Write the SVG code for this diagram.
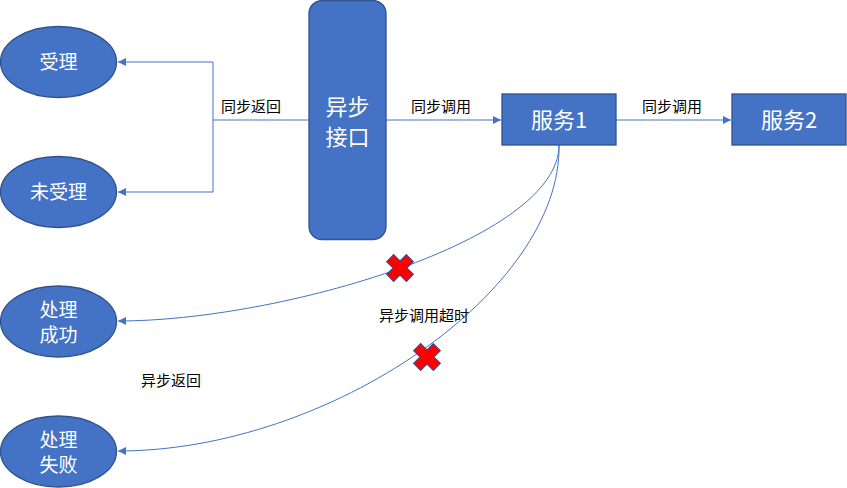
<svg xmlns="http://www.w3.org/2000/svg" width="847" height="488" viewBox="0 0 847 488">
<defs>
<style>
.node{fill:#4472C4;stroke:#2F528F;stroke-width:1.3}
.nt{fill:#FFFFFF;font-family:"Noto Sans CJK SC","Liberation Sans",sans-serif;text-anchor:middle}
.lbl{fill:#000000;font-family:"Noto Sans CJK SC","Liberation Sans",sans-serif;font-size:15px;text-anchor:middle}
.conn{fill:none;stroke:#4472C4;stroke-width:1}
.cross{fill:#FF0000;stroke:#2F528F;stroke-width:1}
</style>
<marker id="arr" viewBox="0 0 10 10" refX="10" refY="5" markerWidth="8" markerHeight="8" markerUnits="userSpaceOnUse" orient="auto">
<path d="M0,0 L10,5 L0,10 Z" fill="#4472C4"/>
</marker>
<polygon id="x" points="-5,-14 5,-14 5,-5 14,-5 14,5 5,5 5,14 -5,14 -5,5 -14,5 -14,-5 -5,-5" transform="rotate(45)"/>
</defs>
<rect width="847" height="488" fill="#FFFFFF"/>
<g id="connectors">
<path class="conn" d="M309,120 H213 V62 H118" marker-end="url(#arr)"/>
<path class="conn" d="M213,120 V192 H118" marker-end="url(#arr)"/>
<path class="conn" d="M386,120 H501" marker-end="url(#arr)"/>
<path class="conn" d="M616,120 H731" marker-end="url(#arr)"/>
<path class="conn" d="M559,145 C559,240 280,321 118,321" marker-end="url(#arr)"/>
<path class="conn" d="M559,145 C562,290 330,451 118,451" marker-end="url(#arr)"/>
<text class="lbl" x="251" y="112">同步返回</text>
<text class="lbl" x="441" y="112">同步调用</text>
<text class="lbl" x="672" y="112">同步调用</text>
<text class="lbl" x="424" y="321">异步调用超时</text>
<text class="lbl" x="171" y="386">异步返回</text>
</g>
<g id="cross1"><use href="#x" class="cross" transform="translate(400,268)"/></g>
<g id="cross2"><use href="#x" class="cross" transform="translate(427,357)"/></g>
<g id="shouli">
<ellipse class="node" cx="58.5" cy="62" rx="58" ry="35.5"/>
<text class="nt" x="58.5" y="69" font-size="19">受理</text>
</g>
<g id="weishouli">
<ellipse class="node" cx="58.5" cy="192" rx="58" ry="35.5"/>
<text class="nt" x="58.5" y="199" font-size="19">未受理</text>
</g>
<g id="chenggong">
<ellipse class="node" cx="58.5" cy="321.5" rx="58" ry="35.5"/>
<text class="nt" x="58.5" y="317" font-size="19">处理</text>
<text class="nt" x="58.5" y="342" font-size="19">成功</text>
</g>
<g id="shibai">
<ellipse class="node" cx="58.5" cy="451.5" rx="58" ry="35.5"/>
<text class="nt" x="58.5" y="447" font-size="19">处理</text>
<text class="nt" x="58.5" y="472" font-size="19">失败</text>
</g>
<g id="jiekou">
<rect class="node" x="309" y="0.5" width="77" height="239" rx="13" ry="13"/>
<text class="nt" x="347.5" y="115" font-size="22">异步</text>
<text class="nt" x="347.5" y="145" font-size="22">接口</text>
</g>
<g id="fuwu1">
<rect class="node" x="502" y="94" width="114" height="51"/>
<text class="nt" x="559" y="128" font-size="22">服务1</text>
</g>
<g id="fuwu2">
<rect class="node" x="732" y="94" width="114" height="51"/>
<text class="nt" x="789" y="128" font-size="22">服务2</text>
</g>
</svg>
